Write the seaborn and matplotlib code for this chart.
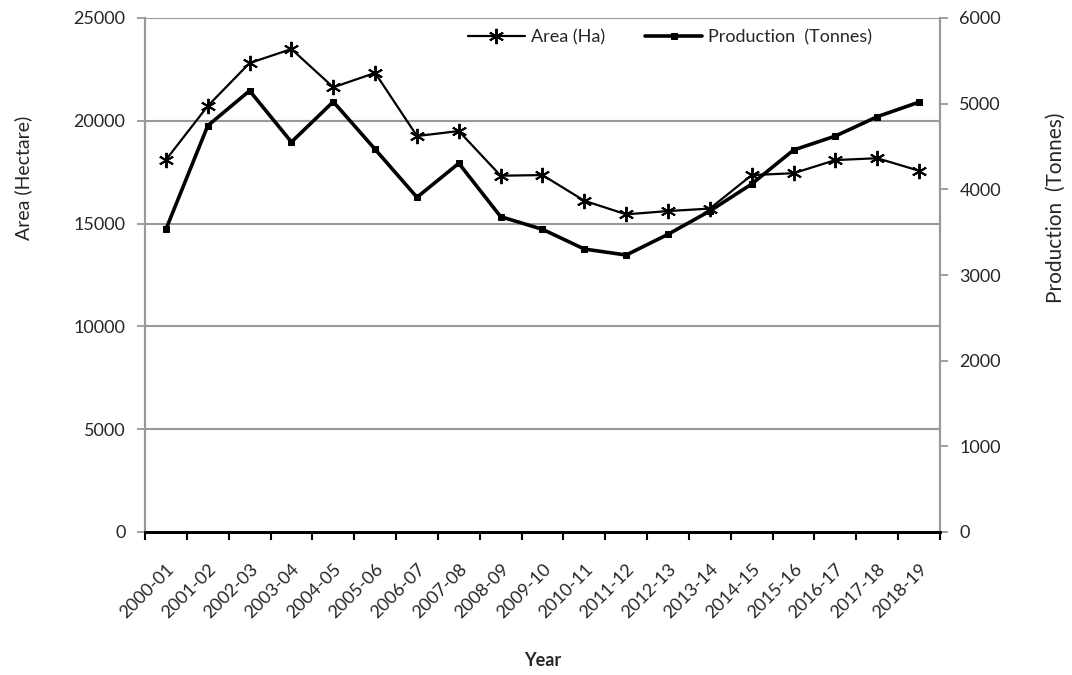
import matplotlib
matplotlib.use("Agg")
import matplotlib.pyplot as plt
import matplotlib.transforms as mtransforms
import numpy as np
import pandas as pd
import seaborn as sns

years = ["2000-01", "2001-02", "2002-03", "2003-04", "2004-05", "2005-06", "2006-07",
         "2007-08", "2008-09", "2009-10", "2010-11", "2011-12", "2012-13", "2013-14",
         "2014-15", "2015-16", "2016-17", "2017-18", "2018-19"]
area_ha = [18100, 20720, 22810, 23490, 21630, 22330, 19260, 19500, 17330, 17360,
           16110, 15450, 15610, 15730, 17360, 17450, 18090, 18180, 17570]
production_t = [3533, 4743, 5151, 4552, 5023, 4467, 3907, 4304, 3681, 3533,
                3303, 3233, 3475, 3747, 4062, 4459, 4622, 4848, 5018]

sns.set_theme(style="white")
plt.rcParams["font.family"] = ["Lato", "DejaVu Sans"]

df = pd.DataFrame({"idx": np.arange(len(years)), "area": area_ha, "prod": production_t})

fig = plt.figure(figsize=(10.72, 6.75), dpi=100)
ax = fig.add_axes([145 / 1072, 1 - 532 / 675, (940 - 145) / 1072, (532 - 18) / 675])
ax2 = ax.twinx()

grid_c = "#999999"

sns.lineplot(data=df, x="idx", y="area", ax=ax, color="black", linewidth=1.6,
             marker=(6, 2, 0), markersize=11, markeredgewidth=1.4,
             markeredgecolor="black", label="Area (Ha)", legend=False)
sns.lineplot(data=df, x="idx", y="prod", ax=ax2, color="black", linewidth=2.6,
             marker="s", markersize=5, markeredgecolor="black",
             label="Production  (Tonnes)", legend=False)

ax.set_xlim(-0.5, len(years) - 0.5)
ax.set_ylim(0, 25000)
ax2.set_ylim(0, 6000)
ax.set_yticks(np.arange(0, 25001, 5000))
ax2.set_yticks(np.arange(0, 6001, 1000))

for y in range(5000, 25001, 5000):
    ax.axhline(y, color=grid_c, linewidth=1.5, zorder=0)

ax.set_xticks(np.arange(len(years)))
ax.set_xticklabels(years, rotation=45, ha="right", rotation_mode="anchor", fontsize=13)
shift = mtransforms.ScaledTranslation(14 / 100, 0, fig.dpi_scale_trans)
for lbl in ax.get_xticklabels():
    lbl.set_transform(lbl.get_transform() + shift)
ax.set_xticks(np.arange(-0.5, len(years)), minor=True)
ax.tick_params(axis="x", which="major", bottom=True, length=0, pad=21)
ax.tick_params(axis="x", which="minor", bottom=True, length=6, width=1.5,
               color="black", direction="out")
ax.tick_params(axis="y", left=True, length=6, width=1.3, color=grid_c, labelsize=13,
               direction="out", pad=8)
ax2.tick_params(axis="y", right=True, length=6, width=1.3, color=grid_c, labelsize=13,
                direction="out", pad=8)

for a in (ax, ax2):
    for side in ("left", "right", "top"):
        a.spines[side].set_color(grid_c)
        a.spines[side].set_linewidth(1.5)
    a.spines["bottom"].set_color("black")
    a.spines["bottom"].set_linewidth(2)
ax.spines["top"].set_visible(False)
ax2.spines["top"].set_visible(False)
ax2.patch.set_visible(False)

ax.set_xlabel("Year", fontsize=13, fontweight="bold")
ax.xaxis.set_label_coords(0.5, -(652 - 532) / 514)
ax.set_ylabel("Area (Hectare)", fontsize=14)
ax.yaxis.set_label_coords(-(145 - 32) / 795, (532 - 178) / 514)
ax2.set_ylabel("Production  (Tonnes)", fontsize=15)
ax2.yaxis.set_label_coords(1 + (1046 - 940) / 795, (532 - 208) / 514)

h1, l1 = ax.get_legend_handles_labels()
h2, l2 = ax2.get_legend_handles_labels()
ax2.legend(h1 + h2, l1 + l2, loc="upper center", bbox_to_anchor=(0.66, 1.01), ncol=2,
           frameon=False, fontsize=13, handlelength=3.2, columnspacing=2.2,
           handletextpad=0.3)

fig.savefig("out.png", dpi=100)
